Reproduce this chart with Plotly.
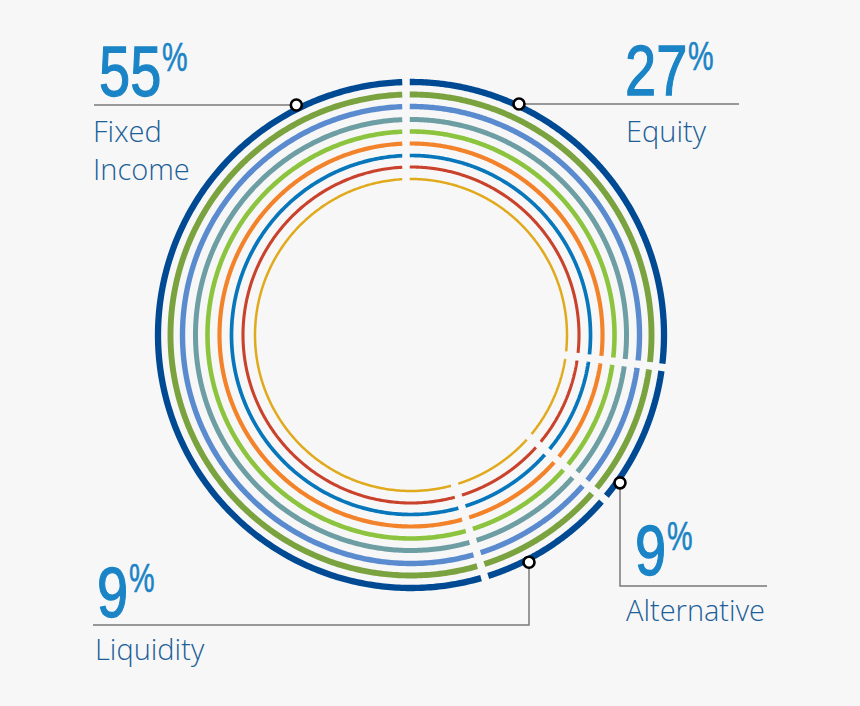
import numpy as np
import plotly.graph_objects as go

# ---- data ----
categories = ["Equity", "Alternative", "Liquidity", "Fixed Income"]
shares = [27, 9, 9, 55]
pct_text = ["27", "9", "9", "55"]
label_text = ["Equity", "Alternative", "Liquidity", "Fixed<br>Income"]

# ---- styles ----
ring_colors = ["#004a93", "#7aa23e", "#5b8bcf", "#6d9ea4", "#8cc43f",
               "#f3832a", "#0876bb", "#c9422b", "#e1a91c"]
ring_radii = [253, 240.5, 228.5, 215.5, 203.5, 191.5, 179.5, 168, 156]
ring_widths = [6.3, 5.9, 5.4, 5.0, 4.6, 4.2, 3.7, 3.1, 2.5]
CX, CY = 411, 335
CUT_DX = -5          # cuts radiate from a point slightly left of the centre
GAP = 7.5
W, H = 860, 706
BG = "#f7f7f7"
NUM_COLOR = "#1b84c6"
LBL_COLOR = "#1d5f98"
LINE_COLOR = "#7a7a7a"

fig = go.Figure()


def cut_angle(phi, r):
    """angle (clockwise from top) where the cut line at angle phi meets ring r"""
    d = np.array([np.sin(phi), -np.cos(phi)])
    o = np.array([CUT_DX, 0.0])
    od = o @ d
    s = -od + np.sqrt(od**2 - o @ o + r**2)
    q = o + s * d
    return np.arctan2(q[0], -q[1])


cum = np.concatenate([[0], np.cumsum(shares)]) / np.sum(shares) * 2 * np.pi
for r, col, lw in zip(ring_radii, ring_colors, ring_widths):
    half = (GAP / 2) / r
    cuts = [cut_angle(p, r) for p in cum[:-1]]
    cuts = np.unwrap(cuts)
    cuts = list(cuts) + [cuts[0] + 2 * np.pi]
    for j in range(len(shares)):
        a0, a1 = cuts[j] + half, cuts[j + 1] - half
        t = np.linspace(a0, a1, 300)
        fig.add_trace(go.Scatter(x=CX + r * np.sin(t), y=CY - r * np.cos(t),
                                 mode="lines",
                                 line=dict(color=col, width=lw, simplify=False),
                                 hoverinfo="skip", showlegend=False))

# callouts: where the leader lines meet the outer ring
R_OUT = 256
fy = 105
fx = CX - np.sqrt((R_OUT + 1) ** 2 - (fy - CY) ** 2)
ey = 104
ex = CX + np.sqrt((R_OUT - 1) ** 2 - (ey - CY) ** 2)
ax_ = 620
ay = CY + np.sqrt(R_OUT**2 - (ax_ - CX)**2)
lx = 529
ly = CY + np.sqrt(R_OUT**2 - (lx - CX)**2)

lines = [
    ([94, fx], [fy, fy]),
    ([ex, 739], [ey, ey]),
    ([ax_, ax_, 767], [ay, 586, 586]),
    ([lx, lx, 93], [ly, 625, 625]),
]
for xs, ys in lines:
    fig.add_trace(go.Scatter(x=xs, y=ys, mode="lines",
                             line=dict(color=LINE_COLOR, width=1.5),
                             hoverinfo="skip", showlegend=False))

fig.add_trace(go.Scatter(x=[fx, ex, ax_, lx], y=[fy, ey, ay, ly], mode="markers",
                         marker=dict(size=11, color="white",
                                     line=dict(color="black", width=2.6)),
                         hoverinfo="skip", showlegend=False))

# text positions (number left x, number center y, label left x, label center y)
pos = {
    "Equity": (623, 71, 624, 130),
    "Alternative": (633, 551, 624, 609),
    "Liquidity": (95, 593, 93, 648),
    "Fixed Income": (97, 72, 91, 149),
}
NUM_FONT = "Liberation Sans, Arial, sans-serif"
LBL_FONT = "Open Sans, Lato, sans-serif"
for cat, p, lab in zip(categories, pct_text, label_text):
    nx, ny, lxx, lyy = pos[cat]
    nd = len(p)
    fig.add_annotation(x=nx, y=ny, text=p, showarrow=False, xanchor="left",
                       yanchor="middle", xref="x", yref="y",
                       font=dict(family=NUM_FONT, size=70, color=NUM_COLOR))
    fig.add_annotation(x=nx + 31 * nd + 1, y=ny - 15, text="%", showarrow=False,
                       xanchor="left", yanchor="middle", xref="x", yref="y",
                       font=dict(family=NUM_FONT, size=40, color=NUM_COLOR))
    fig.add_annotation(x=lxx, y=lyy, text=lab, showarrow=False, xanchor="left",
                       yanchor="middle", xref="x", yref="y", align="left",
                       font=dict(family=LBL_FONT, size=29, color=LBL_COLOR, weight=300))

fig.update_layout(
    width=W, height=H, autosize=False,
    margin=dict(l=0, r=0, t=0, b=0),
    paper_bgcolor=BG, plot_bgcolor=BG,
    xaxis=dict(range=[0, W], visible=False, fixedrange=True),
    yaxis=dict(range=[H, 0], visible=False, fixedrange=True),
)

# condense the big figures horizontally (the reference uses a condensed face)
post = """
document.body.style.margin='0';
document.body.style.background='%s';
(function(){
  var gd = document.getElementById('{plot_id}');
  function condense(){
    gd.querySelectorAll('text.annotation-text').forEach(function(el){
      var t = el.textContent;
      if(!/^[0-9%%]+$/.test(t) || el.getAttribute('data-cond')) return;
      var s = (t === '%%') ? 0.72 : 0.8;
      var b = el.getBBox();
      var ex = el.getAttribute('transform') || '';
      el.setAttribute('transform', ex + ' translate(' + b.x + ',0) scale(' + s + ',1) translate(' + (-b.x) + ',0)');
      el.style.stroke = '%s';
      el.style.strokeWidth = (t === '%%') ? '0.6px' : '1.3px';
      el.setAttribute('data-cond', '1');
    });
  }
  condense();
  gd.on('plotly_afterplot', condense);
})();
""" % (BG, NUM_COLOR)

fig.write_html("out.html", config={"displayModeBar": False}, post_script=post)
